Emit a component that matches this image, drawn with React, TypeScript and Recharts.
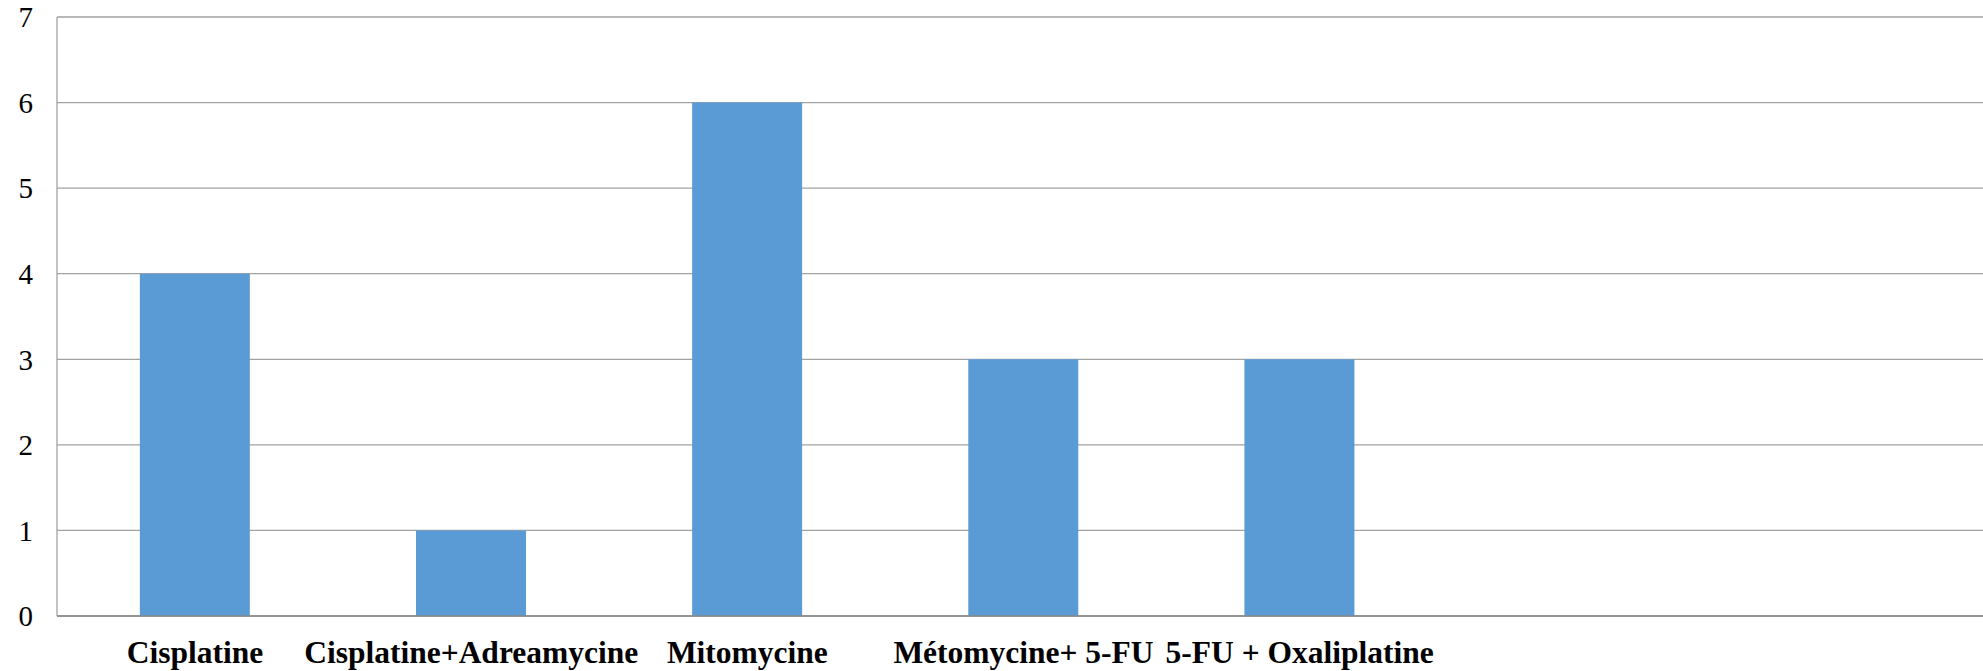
import React from "react";
import { BarChart, Bar, XAxis, YAxis, CartesianGrid } from "recharts";

const categories: string[] = [
  "Cisplatine",
  "Cisplatine+Adreamycine",
  "Mitomycine",
  "Métomycine+ 5-FU",
  "5-FU + Oxaliplatine",
  "",
  " ",
];
const values: (number | null)[] = [4, 1, 6, 3, 3, null, null];
const yTicks: number[] = [0, 1, 2, 3, 4, 5, 6, 7];

const data = categories.map((c, i) => ({ name: c, value: values[i] }));

export default function App() {
  return (
    <div style={{ position: "absolute", left: 0, top: 0, width: 1983, height: 671, overflow: "hidden" }}>
      <BarChart
        width={1990}
        height={671}
        data={data}
        margin={{ top: 17, right: 0, left: 0, bottom: 0 }}
        barCategoryGap="30%"
      >
        <CartesianGrid vertical={false} stroke="#a2a2a2" strokeWidth={1.3} />
        <XAxis
          dataKey="name"
          interval={0}
          height={55}
          tickLine={false}
          tickSize={0}
          tickMargin={25}
          axisLine={{ stroke: "#888888", strokeWidth: 1.5 }}
          tick={{
            fill: "#000",
            fontFamily: "'Liberation Serif', 'Times New Roman', serif",
            fontWeight: "bold",
            fontSize: 31.5,
          }}
        />
        <YAxis
          domain={[0, 7]}
          ticks={yTicks}
          width={57}
          tickLine={false}
          tickSize={0}
          tickMargin={24}
          axisLine={{ stroke: "#a2a2a2", strokeWidth: 1.3 }}
          tick={{
            fill: "#000",
            fontFamily: "'Liberation Serif', 'Times New Roman', serif",
            fontSize: 29,
          }}
        />
        <Bar dataKey="value" fill="#5b9bd5" isAnimationActive={false} />
      </BarChart>
    </div>
  );
}
